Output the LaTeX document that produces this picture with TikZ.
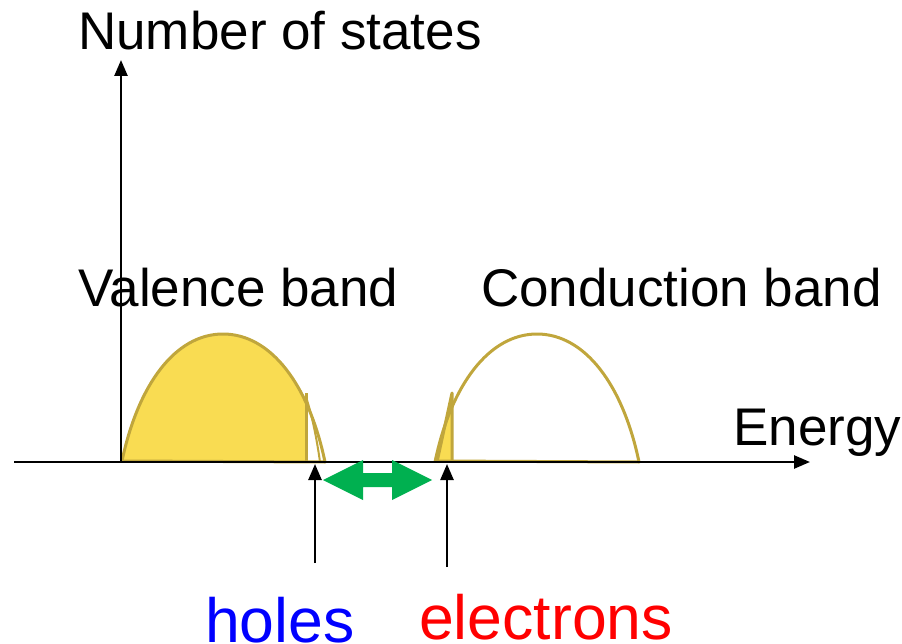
\documentclass[tikz,border=0pt]{standalone}
\usepackage{fontspec}
\setmainfont{Liberation Sans}
\usetikzlibrary{arrows.meta}
\definecolor{bandfill}{RGB}{249,220,82}
\definecolor{bandline}{RGB}{192,166,60}
\definecolor{gapgreen}{RGB}{0,176,80}
\tikzset{
  axis/.style={line width=2.5pt,-{Triangle[length=16pt,width=13pt]}},
  pointer/.style={line width=2.5pt,-{Triangle[length=16pt,width=13pt]}},
  bandedge/.style={draw=bandline,line width=3pt,line join=round},
  lbl/.style={anchor=base west,inner sep=0pt,font=\fontsize{53}{60}\selectfont},
  biglbl/.style={anchor=base west,inner sep=0pt,font=\fontsize{62.5}{70}\selectfont},
}
\begin{document}
\begin{tikzpicture}[x=1pt,y=-1pt]
\useasboundingbox (0,0) rectangle (902,644);
% valence band fill (clipped at the Fermi cut)
\begin{scope}
  \clip (0,0) rectangle (306,644);
  \fill[bandfill] (122,461) .. controls (138,385) and (175,334) .. (223,334)
     .. controls (271,334) and (309,385) .. (325,462) -- cycle;
\end{scope}
\draw[bandedge] (122,461) .. controls (138,385) and (175,334) .. (223,334)
     .. controls (271,334) and (309,385) .. (325,462) -- (122,461);
\draw[bandedge] (306,393) -- (306,462);
\draw[draw=bandline,line width=2pt] (306,397) .. controls (312,415) and (317,440) .. (320,462);
% conduction band
\begin{scope}
  \clip (0,0) rectangle (452,644);
  \fill[bandfill] (435,462) .. controls (451,385) and (489,334) .. (537,334)
     .. controls (585,334) and (623,385) .. (639,462) -- cycle;
  \fill[bandfill] (437,462) -- (452,394) -- (452,462) -- cycle;
\end{scope}
\draw[bandedge] (435,462) .. controls (451,385) and (489,334) .. (537,334)
     .. controls (585,334) and (623,385) .. (639,462) -- (435,461);
\draw[bandedge] (437,462) -- (452,393) -- (452,462);
% axes
\coordinate (origin) at (121,462);
\coordinate (ytop) at (121,60);
\coordinate (xleft) at (14,462);
\coordinate (xright) at (810,462);
\draw[axis] (origin) -- (ytop);
\draw[axis] (xleft) -- (xright);
% pointers
\coordinate (hbot) at (315,563);
\coordinate (htop) at (315,464);
\coordinate (ebot) at (447,567);
\coordinate (etop) at (447,464);
\draw[pointer] (hbot) -- (htop);
\draw[pointer] (ebot) -- (etop);
% gap arrow
\fill[gapgreen] (323,480) -- (363,460) -- (363,473) -- (392,473) -- (392,460)
  -- (432,480) -- (392,500) -- (392,487) -- (363,487) -- (363,500) -- cycle;
% labels
\node[lbl] (nos) at (78,50) {Number of states};
\node[lbl] (vb) at (78,306) {Valence band};
\node[lbl] (cb) at (481,306) {Conduction band};
\node[lbl] (en) at (733,445) {Energy};
\node[biglbl,text={rgb,255:red,0;green,0;blue,255}] (ho) at (205,642) {holes};
\node[biglbl,text={rgb,255:red,255;green,0;blue,0}] (el) at (419,639) {electrons};
\end{tikzpicture}
\end{document}
